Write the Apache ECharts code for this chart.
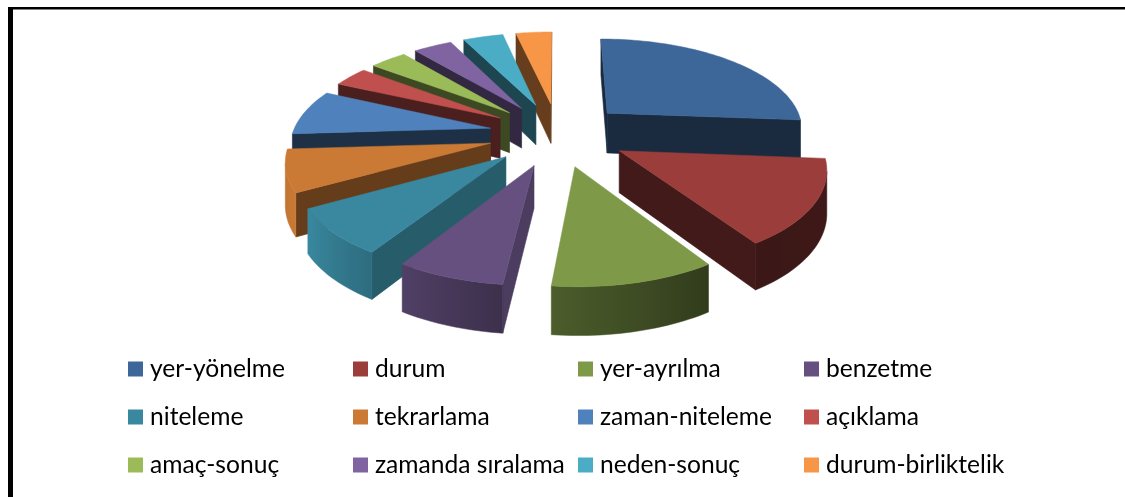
<!DOCTYPE html>
<html><head><meta charset="utf-8">
<style>html,body{margin:0;padding:0;background:#fff}#c{width:1125px;height:497px}</style>
<script src="https://cdn.jsdelivr.net/npm/echarts@6/dist/echarts.min.js"></script>
</head><body><div id="c"></div>
<script>
const categories = ['yer-yönelme','durum','yer-ayrılma','benzetme','niteleme','tekrarlama','zaman-niteleme','açıklama','amaç-sonuç','zamanda sıralama','neden-sonuç','durum-birliktelik'];
const values = [26.25,14.58,10.89,7.22,7.89,7.19,7.83,3.47,3.56,3.75,3.89,3.47];
const colors = ['#3d6798','#9a3d3b','#7e9a48','#65507f','#39889f','#cb7a35','#4f81bd','#c0504d','#9bbb59','#8064a2','#4bacc6','#f79646'];

const P = {cx:558, cy:134, a:198, b:91, p:0.15, hp:0.12, h:41, E:0.35};
const total = values.reduce((s,v)=>s+v,0);
const starts = []; { let acc=0; values.forEach(v=>{starts.push(acc/total*360); acc+=v;}); }
const rad = d=>d*Math.PI/180;
function proj(X,Y,down){
  const s=1/(1-P.p*Y);
  return [P.cx+P.a*X*s, P.cy+P.b*Y*s+(down?P.h/(1-P.hp*Y):0)];
}
function lerpTable(t,x){
  if(x<=t[0][0])return t[0][1];
  for(let i=1;i<t.length;i++){ if(x<=t[i][0]){const f=(x-t[i-1][0])/(t[i][0]-t[i-1][0]);return t[i-1][1]+f*(t[i][1]-t[i-1][1]);} }
  return t[t.length-1][1];
}
const outerShade=[[90,.42],[146,.38],[186,.6],[212,.8],[240,1],[266,.9],[360,.6]];
const radialShade=[[0,.42],[180,.42],[188,.85],[213,.67],[241,.5],[266,.37],[360,.42]];
function shade(hex,f){
  const n=parseInt(hex.slice(1),16);
  const c=[n>>16&255,n>>8&255,n&255].map(v=>Math.round(v*f));
  return `rgb(${c[0]},${c[1]},${c[2]})`;
}
function area(q){let s=0;for(let i=0;i<q.length;i++){const a=q[i],b=q[(i+1)%q.length];s+=a[0]*b[1]-b[0]*a[1];}return s/2;}
function poly(points,fill){
  return {type:'polygon',shape:{points},style:{fill,stroke:fill,lineWidth:0.6}};
}
function renderSlice(params){
  const i=params.seriesIndex;
  const t0=starts[i], t1=i<values.length-1?starts[i+1]:360, m=(t0+t1)/2;
  const ox=P.E*Math.sin(rad(m)), oy=-P.E*Math.cos(rad(m));
  const pt=(t,r,down)=>proj(ox+r*Math.sin(rad(t)),oy-r*Math.cos(rad(t)),down);
  const w0=[pt(t0,0,false),pt(t0,1,false),pt(t0,1,true),pt(t0,0,true)];
  const w1=[pt(t1,1,false),pt(t1,0,false),pt(t1,0,true),pt(t1,1,true)];
  const keep=[];
  if(area(w0)<0) keep.push(poly(w0,shade(colors[i],lerpTable(radialShade,t0))));
  if(area(w1)<0) keep.push(poly(w1,shade(colors[i],.42)));
  const n=Math.max(6,Math.ceil((t1-t0)/1.5));
  const top=[pt(t0,0,false)];
  const rimT=[];
  for(let k=0;k<=n;k++){
    const t=t0+(t1-t0)*k/n; top.push(pt(t,1,false));
    if(k<n){
      const t2=t0+(t1-t0)*(k+1)/n;
      const q=[pt(t,1,false),pt(t2,1,false),pt(t2,1,true),pt(t,1,true)];
      if(area(q)<0){ if(!rimT.length) rimT.push(t); rimT.push(t2); }
    }
  }
  const children=[...keep];
  if(rimT.length){
    const upper=rimT.map(t=>pt(t,1,false)), lower=rimT.map(t=>pt(t,1,true)).reverse();
    const xs=upper.map(p=>p[0]);
    const xa=Math.min(...xs), xb=Math.max(...xs), span=Math.max(1,xb-xa);
    const stops=rimT.map((t,k)=>({offset:Math.min(1,Math.max(0,(xs[k]-xa)/span)),color:shade(colors[i],lerpTable(outerShade,t))}))
      .sort((u,v)=>u.offset-v.offset);
    const fill=new echarts.graphic.LinearGradient(xa,0,xb,0,stops,true);
    children.push({type:'polygon',shape:{points:upper.concat(lower)},style:{fill,stroke:fill,lineWidth:0.5}});
  }
  children.push({type:'polygon',shape:{points:top},style:{fill:colors[i],stroke:colors[i],lineWidth:0.5}});
  return {type:'group',children};
}
const series=categories.map((name,i)=>{
  const t1=i<values.length-1?starts[i+1]:360, m=(starts[i]+t1)/2;
  return {type:'custom',name,coordinateSystem:'none',renderItem:renderSlice,
    data:[[values[i]]],silent:true,animation:false,itemStyle:{color:colors[i]},
    z:10-Math.cos(rad(m))*5};
});
const colX=[128,353,578,804];
const legend=colX.map((left,c)=>({
  left,top:355,orient:'vertical',padding:0,itemWidth:15,itemHeight:15,itemGap:20,icon:'rect',selectedMode:false,
  data:[categories[c],categories[c+4],categories[c+8]],
  textStyle:{fontFamily:'Lato',fontSize:24.6,color:'#000',padding:[0,0,0,2],lineHeight:28}
}));
const chart=echarts.init(document.getElementById('c'),null,{renderer:'canvas'});
chart.setOption({
  animation:false,backgroundColor:'#fff',series,legend,
  graphic:[
    {type:'rect',shape:{x:8,y:7,width:1117,height:2.5},style:{fill:'#000'},silent:true},
    {type:'rect',shape:{x:8,y:7,width:5,height:490},style:{fill:'#000'},silent:true}
  ]
});
</script></body></html>
